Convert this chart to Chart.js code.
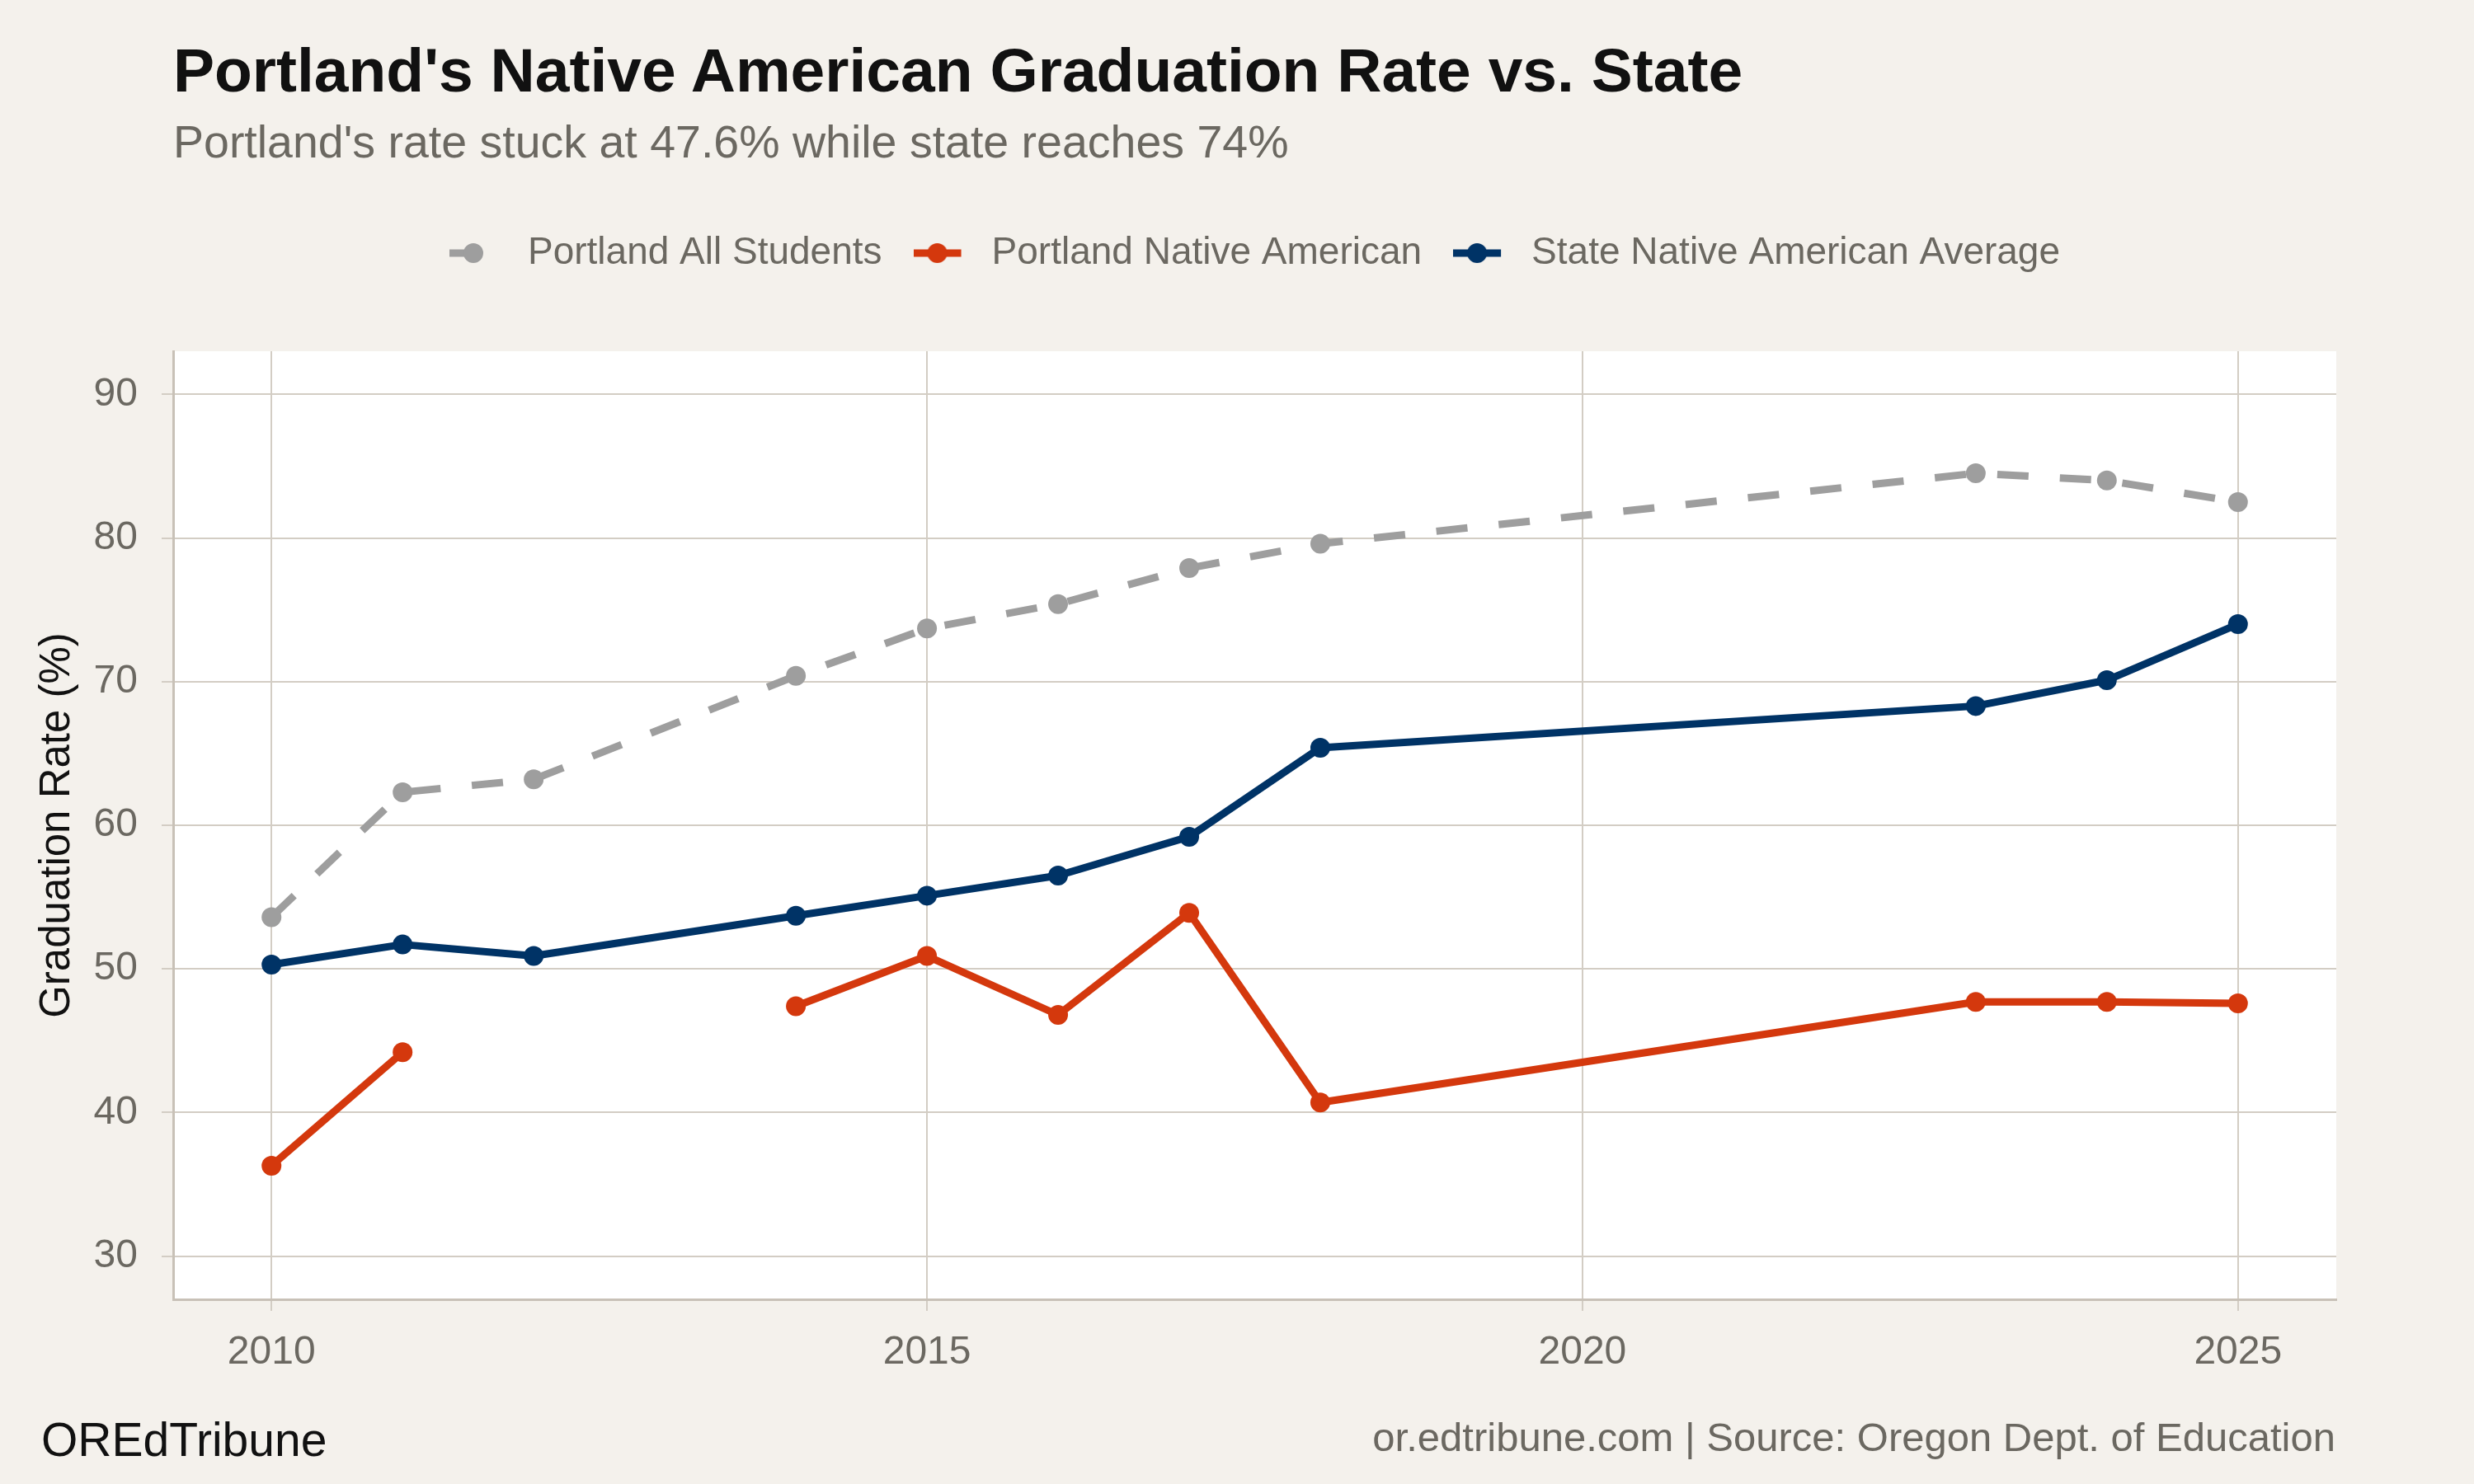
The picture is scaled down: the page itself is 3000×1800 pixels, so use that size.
<!DOCTYPE html>
<html>
<head>
<meta charset="utf-8">
<script src="https://cdn.jsdelivr.net/npm/chart.js@4.4.1/dist/chart.umd.min.js"></script>
<style>
  html, body { margin: 0; padding: 0; background: #f4f1ec; }
  body { width: 3000px; height: 1800px; position: relative; overflow: hidden;
         font-family: 'Liberation Sans', Arial, Helvetica, sans-serif; }
  #chart { position: absolute; left: 0; top: 0; }
  .txt { position: absolute; white-space: nowrap; line-height: 1; }
  #title { left: 210px; top: 48px; font-size: 75px; font-weight: bold; color: #111; }
  #subtitle { left: 210px; top: 145px; font-size: 55.5px; color: #6b6861; }
  #brand { left: 50px; top: 1718px; font-size: 57px; color: #111; }
  #source { right: 168px; top: 1719px; font-size: 49px; color: #6b6861; }
</style>
</head>
<body>
<canvas id="chart" width="3000" height="1800"></canvas>
<div class="txt" id="title">Portland's Native American Graduation Rate vs. State</div>
<div class="txt" id="subtitle">Portland's rate stuck at 47.6% while state reaches 74%</div>
<div class="txt" id="brand">OREdTribune</div>
<div class="txt" id="source">or.edtribune.com | Source: Oregon Dept. of Education</div>
<script>
// Data
const years = [2010, 2011, 2012, 2014, 2015, 2016, 2017, 2018, 2023, 2024, 2025];
const allStudents = [53.6, 62.3, 63.2, 70.4, 73.7, 75.4, 77.9, 79.6, 84.5, 84.0, 82.5];
const portlandNative = [36.3, 44.2, null, 47.4, 50.9, 46.8, 53.9, 40.7, 47.7, 47.7, 47.6];
const stateNative = [50.3, 51.7, 50.9, 53.7, 55.1, 56.5, 59.2, 65.4, 68.3, 70.1, 74.0];
const seriesNames = ['Portland All Students', 'Portland Native American', 'State Native American Average'];
const xTicks = [2010, 2015, 2020, 2025];
const yTicks = [30, 40, 50, 60, 70, 80, 90];

const GRAY = '#9e9e9e';
const RED = '#d4380d';
const NAVY = '#003366';
const TEXT_GRAY = '#6b6861';
const GRID = '#d3cdc4';
const AXIS = '#c8c1b7';
const LINE_W = 9;
const DOT_R = 12;

Chart.defaults.font.family = "'Liberation Sans', Arial, Helvetica, sans-serif";

function toPoints(vals) {
    return years.map((yr, i) => ({ x: yr, y: vals[i] }));
}

// legend key: short line with a dot, like the ggplot keys
function makeKey(color, dashed) {
    const c = document.createElement('canvas');
    c.width = 72;
    c.height = 26;
    const g = c.getContext('2d');
    g.strokeStyle = color;
    g.lineWidth = LINE_W;
    g.beginPath();
    g.moveTo(0, 13);
    g.lineTo(dashed ? 38 : 58, 13);
    g.stroke();
    g.fillStyle = color;
    g.beginPath();
    g.arc(29, 13, DOT_R, 0, Math.PI * 2);
    g.fill();
    return c;
}
const legendKeys = [makeKey(GRAY, true), makeKey(RED, false), makeKey(NAVY, false)];

// white panel behind the plot area
const panelBg = {
    id: 'panelBg',
    beforeDraw(chart) {
        const { ctx, chartArea: a } = chart;
        ctx.save();
        ctx.fillStyle = '#ffffff';
        ctx.fillRect(a.left, a.top, a.width, a.height);
        ctx.restore();
    }
};

// keep a gap under the legend and center it over the panel
const legendPlacement = {
    id: 'legendPlacement',
    beforeLayout(chart) {
        const lg = chart.legend;
        if (lg && !lg._gapAdded) {
            const fit = lg.fit;
            lg.fit = function () { fit.call(this); this.height += 86; };
            lg._gapAdded = true;
        }
    },
    afterLayout(chart) {
        const lg = chart.legend, a = chart.chartArea;
        const shift = (a.left + a.right) / 2 - (lg.left + lg.right) / 2;
        lg.left += shift;
        lg.right += shift;
    }
};

function lineSet(label, vals, color, order, dash) {
    return {
        label: label,
        data: toPoints(vals),
        borderColor: color,
        backgroundColor: color,
        borderWidth: LINE_W,
        borderDash: dash || [],
        borderCapStyle: 'butt',
        borderJoinStyle: 'round',
        pointRadius: DOT_R,
        pointHoverRadius: DOT_R,
        pointBorderWidth: 0,
        pointBackgroundColor: color,
        spanGaps: false,
        order: order
    };
}

new Chart(document.getElementById('chart'), {
    type: 'line',
    data: {
        datasets: [
            lineSet(seriesNames[0], allStudents, GRAY, 3, [38, 38]),
            lineSet(seriesNames[1], portlandNative, RED, 2),
            lineSet(seriesNames[2], stateNative, NAVY, 1)
        ]
    },
    options: {
        responsive: false,
        animation: false,
        devicePixelRatio: 1,
        layout: { padding: { left: 39, right: 167, top: 246, bottom: 124 } },
        plugins: {
            tooltip: { enabled: false },
            title: { display: false },
            legend: {
                position: 'top',
                labels: {
                    usePointStyle: true,
                    pointStyleWidth: 72,
                    padding: 38,
                    color: TEXT_GRAY,
                    font: { size: 46 },
                    sort: (a, b) => a.datasetIndex - b.datasetIndex,
                    generateLabels(chart) {
                        const items = Chart.defaults.plugins.legend.labels.generateLabels(chart);
                        items.forEach(it => { it.pointStyle = legendKeys[it.datasetIndex]; });
                        return items;
                    }
                }
            }
        },
        scales: {
            x: {
                type: 'linear',
                min: 2009.25,
                max: 2025.75,
                afterBuildTicks: s => { s.ticks = xTicks.map(v => ({ value: v })); },
                afterFit: s => { s.height = 100; },
                ticks: { callback: v => String(v), color: TEXT_GRAY, font: { size: 48 }, padding: 22 },
                grid: { color: GRID, lineWidth: 2, tickLength: 14 },
                border: { color: AXIS, width: 3 }
            },
            y: {
                min: 27,
                max: 93,
                afterBuildTicks: s => { s.ticks = yTicks.map(v => ({ value: v })); },
                afterFit: s => { s.width = 171; },
                ticks: { callback: v => String(v), color: TEXT_GRAY, font: { size: 48 }, padding: 29 },
                grid: { color: GRID, lineWidth: 2, tickLength: 14 },
                border: { color: AXIS, width: 3 },
                title: {
                    display: true,
                    text: 'Graduation Rate (%)',
                    color: '#111111',
                    font: { size: 51 },
                    padding: { top: 0, bottom: 0 }
                }
            }
        }
    },
    plugins: [panelBg, legendPlacement]
});
</script>
</body>
</html>
